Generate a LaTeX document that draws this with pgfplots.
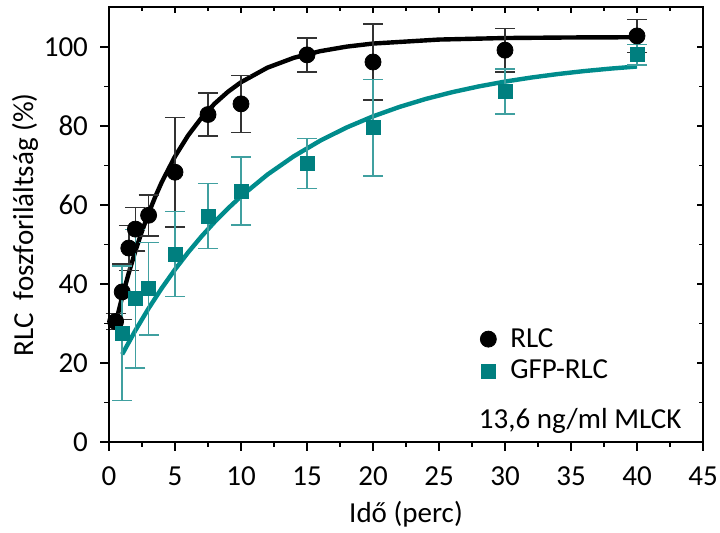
\documentclass[border=0pt]{standalone}
\usepackage{pgfplots}
\pgfplotsset{compat=1.18}
\usepackage{fontspec}
\setmainfont{Carlito}
\definecolor{tealm}{HTML}{007F7F}
\definecolor{teale}{HTML}{40A0A0}
\definecolor{tealc}{HTML}{008C8C}
\definecolor{darke}{HTML}{333333}
\newcommand{\fs}{\fontsize{14.5}{17}\selectfont}
\begin{document}
\begin{tikzpicture}
\pgfplotsset{
  common/.style={
    scale only axis, width=297pt, height=217.25pt,
    xmin=0, xmax=45, ymin=0, ymax=110,
    xtick={0,5,...,45}, ytick={0,20,...,100},
    minor xtick={2.5,7.5,...,42.5}, minor ytick={10,30,...,90},
    every tick/.style={black, line width=0.8pt},
    axis line style={line width=1pt},
  }
}
\begin{axis}[common, name=main,
  axis lines=box,
  xtick pos=bottom, ytick pos=left, tick align=outside,
  major tick length=4.5pt, minor tick length=2.5pt,
  /pgf/number format/assume math mode=true,
  tick label style={font=\fs},
  xticklabel style={yshift=-4.5pt},
  yticklabel style={xshift=-2.5pt},
  label style={font=\fs},
  xlabel={Idő (perc)},
  ylabel={RLC\ \ foszforiláltság (\%)},
  xlabel style={at={(axis description cs:0.5,0)}, anchor=base, yshift=-40.5pt},
  ylabel style={at={(axis description cs:0,0.5)}, anchor=center, yshift=42pt},
  legend style={draw=none, fill=none, at={(rel axis cs:0.6245,0.272)}, anchor=north west,
    font=\fs, row sep=1pt, inner sep=0pt, nodes={inner xsep=7pt}},
  legend cell align=left,
  clip=false,
]
% fit curves
\addplot[black, line width=2.2pt, forget plot] coordinates {
(0.5,30.0)(1,36.73)(1.5,42.82)(2,48.35)(2.5,53.37)(3,57.92)(3.5,62.05)(4,65.81)
(5,72.29)(6,77.64)(7,82.03)(8,85.65)(9,88.63)(10,91.08)(12,94.76)(14,97.26)
(16,98.94)(18,100.09)(20,100.87)(25,101.88)(30,102.27)(35,102.41)(40,102.47)};
\addplot[tealc, line width=2.2pt, forget plot] coordinates {
(1,22.2)(2,28.25)(3,33.83)(4,38.96)(5,43.68)(6,48.02)(7,52.02)(8,55.70)(9,59.08)
(10,62.19)(12,67.69)(14,72.34)(16,76.28)(18,79.62)(20,82.44)(22,84.82)(24,86.85)
(26,88.56)(28,90.01)(30,91.24)(32,92.27)(34,93.15)(36,93.90)(38,94.53)(40,95.06)};
% data
\addplot[only marks, mark=*, mark size=4pt, black,
  error bars/.cd, y dir=both, y explicit,
  error bar style={darke, line width=0.8pt},
  error mark options={rotate=90, mark size=5pt, darke, line width=0.8pt}]
coordinates {
(0.5,30.5) +- (0,2)
(1,38.0) +- (0,7)
(1.5,49.1) +- (0,5.7)
(2,53.9) +- (0,5.5)
(3,57.4) +- (0,5.2)
(5,68.3) +- (0,13.8)
(7.5,82.9) +- (0,5.5)
(10,85.6) +- (0,7.2)
(15,98.0) +- (0,4.3)
(20,96.2) +- (0,9.6)
(30,99.2) +- (0,5.5)
(40,102.8) +- (0,4.2)
};
\addlegendentry{RLC}
\addplot[only marks, mark=square*, mark size=3.5pt, tealm, mark options={fill=tealm, draw=tealm},
  error bars/.cd, y dir=both, y explicit,
  error bar style={teale, line width=0.8pt},
  error mark options={rotate=90, mark size=5pt, teale, line width=0.8pt}]
coordinates {
(1,27.5) +- (0,17)
(2,36.3) +- (0,17.5)
(3,38.8) +- (0,11.7)
(5,47.6) +- (0,10.8)
(7.5,57.2) +- (0,8.2)
(10,63.5) +- (0,8.6)
(15,70.5) +- (0,6.3)
(20,79.6) +- (0,12.2)
(30,88.7) +- (0,5.7)
(40,98.0) +- (0,2.6)
};
\addlegendentry{GFP-RLC}
\node[anchor=base east, inner sep=0pt, font=\fs] at (axis cs:43.4,3.5) {13,6 ng/ml MLCK};
\end{axis}
\begin{axis}[common,
  axis lines=box,
  xtick pos=top, ytick pos=right, tick align=inside,
  major tick length=3pt, minor tick length=2pt,
  xticklabels={}, yticklabels={},
  tick label style={overlay},
]
\end{axis}
\pgfresetboundingbox
\path (main.south west) ++(-54.5pt,-45.5pt);
\path (main.north east) ++(8.5pt,3.75pt);
\end{tikzpicture}
\end{document}
